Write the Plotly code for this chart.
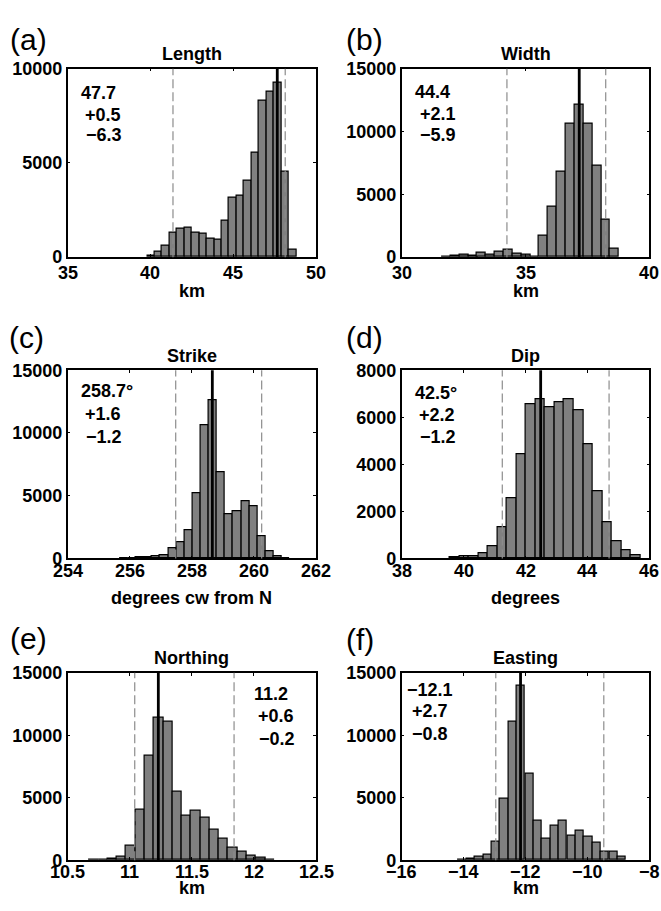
import plotly.graph_objects as go

W, H = 661, 911

# ---- histogram data: bin centres and sample counts ----
length_km = [40.03, 40.48, 40.93, 41.38, 41.83, 42.28, 42.73, 43.18, 43.63, 44.08,
             44.53, 44.98, 45.43, 45.88, 46.33, 46.78, 47.23, 47.68, 48.13, 48.58]
length_counts = [90, 280, 620, 1310, 1520, 1560, 1300, 1250, 1000, 920,
                 1960, 3170, 3270, 4070, 5540, 8320, 8790, 9260, 4520, 380]

width_km = [31.79, 32.15, 32.51, 32.87, 33.22, 33.58, 33.94, 34.30, 34.66, 35.02,
            35.37, 35.73, 36.09, 36.45, 36.81, 37.17, 37.52, 37.88, 38.24, 38.60]
width_counts = [50, 80, 180, 130, 390, 180, 470, 620, 310, 180,
                60, 1690, 4050, 6770, 10640, 12170, 10590, 7290, 2990, 650]

strike_deg = [255.80, 256.06, 256.32, 256.58, 256.84, 257.11, 257.37, 257.63, 257.89,
              258.15, 258.41, 258.67, 258.94, 259.20, 259.46, 259.72, 259.98, 260.24,
              260.50, 260.77, 261.03]
strike_counts = [26, 52, 78, 130, 156, 260, 780, 1270, 2260, 5170, 10630, 12580,
                 6890, 3560, 3770, 4520, 4130, 1790, 570, 180, 50]

dip_deg = [39.71, 40.02, 40.32, 40.63, 40.94, 41.25, 41.56, 41.86, 42.17, 42.48,
           42.79, 43.10, 43.40, 43.71, 44.02, 44.33, 44.64, 44.94, 45.25, 45.56]
dip_counts = [40, 100, 100, 220, 510, 1320, 2550, 4440, 6550, 6760,
              6410, 6620, 6760, 6300, 4850, 2840, 1540, 750, 350, 150]

northing_km = [10.709, 10.784, 10.858, 10.933, 11.008, 11.083, 11.157, 11.232, 11.307,
               11.381, 11.456, 11.531, 11.605, 11.680, 11.755, 11.829, 11.904, 11.979,
               12.054, 12.128]
northing_counts = [26, 52, 100, 290, 1120, 4040, 8380, 11430, 11110, 5450,
                   3550, 3940, 3420, 2400, 1720, 970, 650, 370, 210, 50]

easting_km = [-14.045, -13.774, -13.502, -13.231, -12.960, -12.688, -12.417, -12.146,
              -11.874, -11.603, -11.331, -11.060, -10.789, -10.517, -10.246, -9.975,
              -9.703, -9.432, -9.160, -8.889]
easting_counts = [50, 130, 260, 470, 1440, 4950, 11070, 13930, 6890, 3120,
                  1730, 2780, 3170, 1960, 2330, 1910, 1410, 680, 680, 310]

# ---- best estimate (solid) and confidence bounds (dashed) ----
best = [47.66, 37.17, 258.66, 42.49, 11.23, -12.16]
lower = [41.36, 34.25, 257.48, 41.25, 11.04, -12.96]
upper = [48.14, 38.24, 260.25, 44.70, 11.84, -9.47]

stat_text = [["47.7", "+0.5", "\u22126.3"],
             ["44.4", "+2.1", "\u22125.9"],
             ["258.7\u00b0", "+1.6", "\u22121.2"],
             ["42.5\u00b0", "+2.2", "\u22121.2"],
             ["11.2", "+0.6", "\u22120.2"],
             ["\u221212.1", "+2.7", "\u22120.8"]]

titles = ["Length", "Width", "Strike", "Dip", "Northing", "Easting"]
x_titles = ["km", "km", "degrees cw from N", "degrees", "km", "km"]
panel_tags = ["(a)", "(b)", "(c)", "(d)", "(e)", "(f)"]

# ---- axis ranges and tick labels ----
x_ranges = [[35, 50], [30, 40], [254, 262], [38, 46], [10.5, 12.5], [-16, -8]]
x_ticks = [[35, 40, 45, 50], [30, 35, 40], [254, 256, 258, 260, 262],
           [38, 40, 42, 44, 46], [10.5, 11, 11.5, 12, 12.5], [-16, -14, -12, -10, -8]]
x_ticktext = [["35", "40", "45", "50"], ["30", "35", "40"],
              ["254", "256", "258", "260", "262"], ["38", "40", "42", "44", "46"],
              ["10.5", "11", "11.5", "12", "12.5"],
              ["\u221216", "\u221214", "\u221212", "\u221210", "\u22128"]]
y_max = [10000, 15000, 15000, 8000, 15000, 15000]
y_ticks = [[0, 5000, 10000], [0, 5000, 10000, 15000], [0, 5000, 10000, 15000],
           [0, 2000, 4000, 6000, 8000], [0, 5000, 10000, 15000], [0, 5000, 10000, 15000]]

centres = [length_km, width_km, strike_deg, dip_deg, northing_km, easting_km]
counts = [length_counts, width_counts, strike_counts, dip_counts,
          northing_counts, easting_counts]

# ---- layout geometry (pixels) ----
col_px = [(67.7, 316.0), (401.7, 649.3)]
row_px = [(60.0, 252.7), (368.3, 560.7), (677.7, 869.3)]
tick_gap = [16.5, 12.5, 12.0]       # x tick label centre below axis
xtitle_gap = [34.5, 40.5, 28.0]     # x axis title centre below axis
stat_pos = [[(79, 85), (83, 107), (84, 128)],
            [(413, 84), (418, 106), (418, 128)],
            [(79, 390), (83, 413), (84, 437)],
            [(413, 392), (417, 414), (418, 437)],
            [(252, 699), (256, 722), (257, 745)],
            [(405, 695), (410, 717), (410, 740)]]
tag_pos = [(28, 30), (364, 30), (27, 335), (364, 335), (28, 643), (360, 644)]

FONT = "Liberation Sans, Arial, Helvetica, sans-serif"
FS = 18
BAR_FILL = "#808080"
DASH_GREY = "#8c8c8c"


def px(x, y):
    return x / W, 1 - y / H


fig = go.Figure()
layout = dict(width=W, height=H, margin=dict(l=0, r=0, t=0, b=0),
              paper_bgcolor="white", plot_bgcolor="white",
              showlegend=False, bargap=0, font=dict(family=FONT, color="black"))
annotations = []
shapes = []

for i in range(6):
    r, c = divmod(i, 2)
    n = "" if i == 0 else str(i + 1)
    xa, ya = "x" + n, "y" + n
    x0p, x1p = col_px[c]
    y0p, y1p = row_px[r]

    xs = centres[i]
    bw = xs[1] - xs[0]
    fig.add_trace(go.Bar(x=xs, y=counts[i], width=bw, xaxis=xa, yaxis=ya,
                         marker=dict(color=BAR_FILL, line=dict(color="black", width=1.2)),
                         hoverinfo="x+y"))

    common = dict(showline=True, linecolor="black", linewidth=1.5, mirror="ticks",
                  ticks="inside", ticklen=3, tickwidth=1, tickcolor="black",
                  showgrid=False, zeroline=False, fixedrange=True,
                  tickfont=dict(family=FONT, size=FS, color="black", weight="bold"))
    layout["xaxis" + n] = dict(common, domain=[x0p / W, x1p / W], anchor=ya,
                               range=x_ranges[i], tickmode="array",
                               tickvals=x_ticks[i], ticktext=x_ticktext[i],
                               showticklabels=False)
    layout["yaxis" + n] = dict(common, domain=[1 - y1p / H, 1 - y0p / H], anchor=xa,
                               range=[0, y_max[i]], tickmode="array",
                               tickvals=y_ticks[i], ticktext=[str(v) for v in y_ticks[i]])

    # x tick labels
    for v, t in zip(x_ticks[i], x_ticktext[i]):
        annotations.append(dict(x=v, xref=xa, y=1 - (y1p + tick_gap[r]) / H, yref="paper",
                                text=t, showarrow=False, xanchor="center", yanchor="middle",
                                font=dict(family=FONT, size=FS, weight="bold")))

    # solid best estimate and dashed bounds
    shapes.append(dict(type="line", xref=xa, yref=ya + " domain", x0=best[i], x1=best[i],
                       y0=0, y1=1, line=dict(color="black", width=2.8), layer="above"))
    for b in (lower[i], upper[i]):
        shapes.append(dict(type="line", xref=xa, yref=ya + " domain", x0=b, x1=b,
                           y0=0, y1=1, line=dict(color=DASH_GREY, width=1.2, dash="9px,4px"),
                           layer="above"))

    # panel title, axis title, tag
    cx = (x0p + x1p) / 2
    tx, ty = px(cx, y0p - 15)
    annotations.append(dict(x=tx, y=ty, xref="paper", yref="paper", text=titles[i],
                            showarrow=False, xanchor="center", yanchor="middle",
                            font=dict(family=FONT, size=FS, weight="bold")))
    tx, ty = px(cx, y1p + xtitle_gap[r])
    annotations.append(dict(x=tx, y=ty, xref="paper", yref="paper", text=x_titles[i],
                            showarrow=False, xanchor="center", yanchor="middle",
                            font=dict(family=FONT, size=FS, weight="bold")))
    tx, ty = px(*tag_pos[i])
    annotations.append(dict(x=tx, y=ty, xref="paper", yref="paper", text=panel_tags[i],
                            showarrow=False, xanchor="center", yanchor="middle",
                            font=dict(family=FONT, size=30)))

    # statistics text
    for line, (lx, ly) in zip(stat_text[i], stat_pos[i]):
        tx, ty = px(lx, ly)
        annotations.append(dict(x=tx, y=ty, xref="paper", yref="paper", text=line,
                                showarrow=False, xanchor="left", yanchor="middle",
                                font=dict(family=FONT, size=FS, weight="bold")))

layout["annotations"] = annotations
layout["shapes"] = shapes
fig.update_layout(**layout)

fig.write_html("out.html")
